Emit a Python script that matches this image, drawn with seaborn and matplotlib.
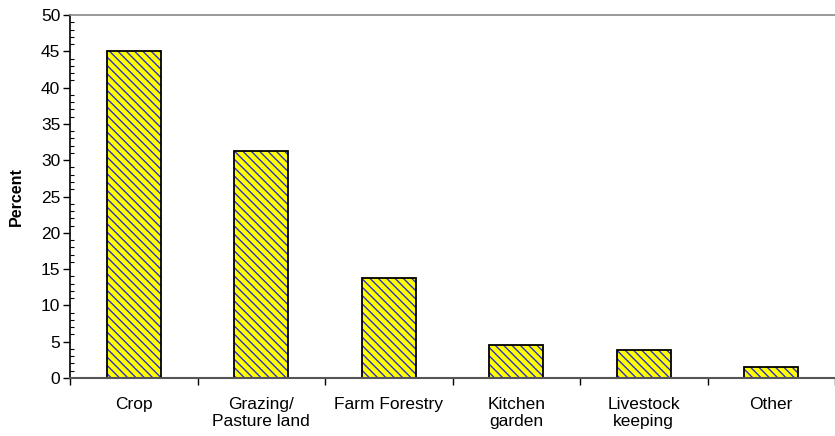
import matplotlib
matplotlib.use("Agg")
import matplotlib.pyplot as plt
import seaborn as sns
import numpy as np
import pandas as pd
from matplotlib.ticker import MultipleLocator, FixedLocator

categories = ["Crop", "Grazing/\nPasture land", "Farm Forestry", "Kitchen\ngarden", "Livestock\nkeeping", "Other"]
values = [45.0, 31.3, 13.8, 4.5, 3.9, 1.5]
y_ticks = [0, 5, 10, 15, 20, 25, 30, 35, 40, 45, 50]

sns.set_theme(style="white")
plt.rcParams['font.family'] = ['Liberation Sans', 'DejaVu Sans']
plt.rcParams['hatch.linewidth'] = 1.0

df = pd.DataFrame({"cat": categories, "val": values})

fig = plt.figure(figsize=(8.35, 4.36), dpi=100)
ax = fig.add_axes([70/835, 58/436, 765/835, 363/436])

sns.barplot(data=df, x="cat", y="val", ax=ax, color="#ffff00", saturation=1,
            width=0.42, hatch="\\\\\\\\", edgecolor="#3030c8", linewidth=0)
sns.barplot(data=df, x="cat", y="val", ax=ax, fill=False, saturation=1,
            width=0.42, edgecolor="black", linewidth=1.3)

ax.set_ylim(0, 50)
ax.set_xlim(-0.5, len(categories) - 0.5)
ax.yaxis.set_major_locator(FixedLocator(y_ticks))
ax.yaxis.set_minor_locator(MultipleLocator(1))
ax.tick_params(axis="y", which="major", direction="out", length=5, width=1, color="black",
               labelsize=12.5, pad=2, labelcolor="black", left=True)
ax.tick_params(axis="y", which="minor", direction="in", length=3, width=0.8, color="black", left=True)

ax.set_xticks(range(len(categories)))
ax.set_xticklabels(categories, fontsize=12.5, color="black", linespacing=1.1)
ax.xaxis.set_minor_locator(FixedLocator(np.arange(-0.5, len(categories), 1.0)))
ax.tick_params(axis="x", which="major", length=0, pad=14)
ax.tick_params(axis="x", which="minor", direction="out", length=5, width=1, color="black", bottom=True)

ax.set_xlabel("")
ax.set_ylabel("Percent", fontsize=11.5, fontweight="bold", color="black", labelpad=12)

ax.spines["left"].set_color("black")
ax.spines["left"].set_linewidth(1.2)
ax.spines["bottom"].set_color("#555555")
ax.spines["bottom"].set_linewidth(1.5)
ax.spines["top"].set_color("#888888")
ax.spines["top"].set_linewidth(1.2)
ax.spines["right"].set_visible(False)
ax.grid(False)

fig.savefig("out.png", dpi=100)
